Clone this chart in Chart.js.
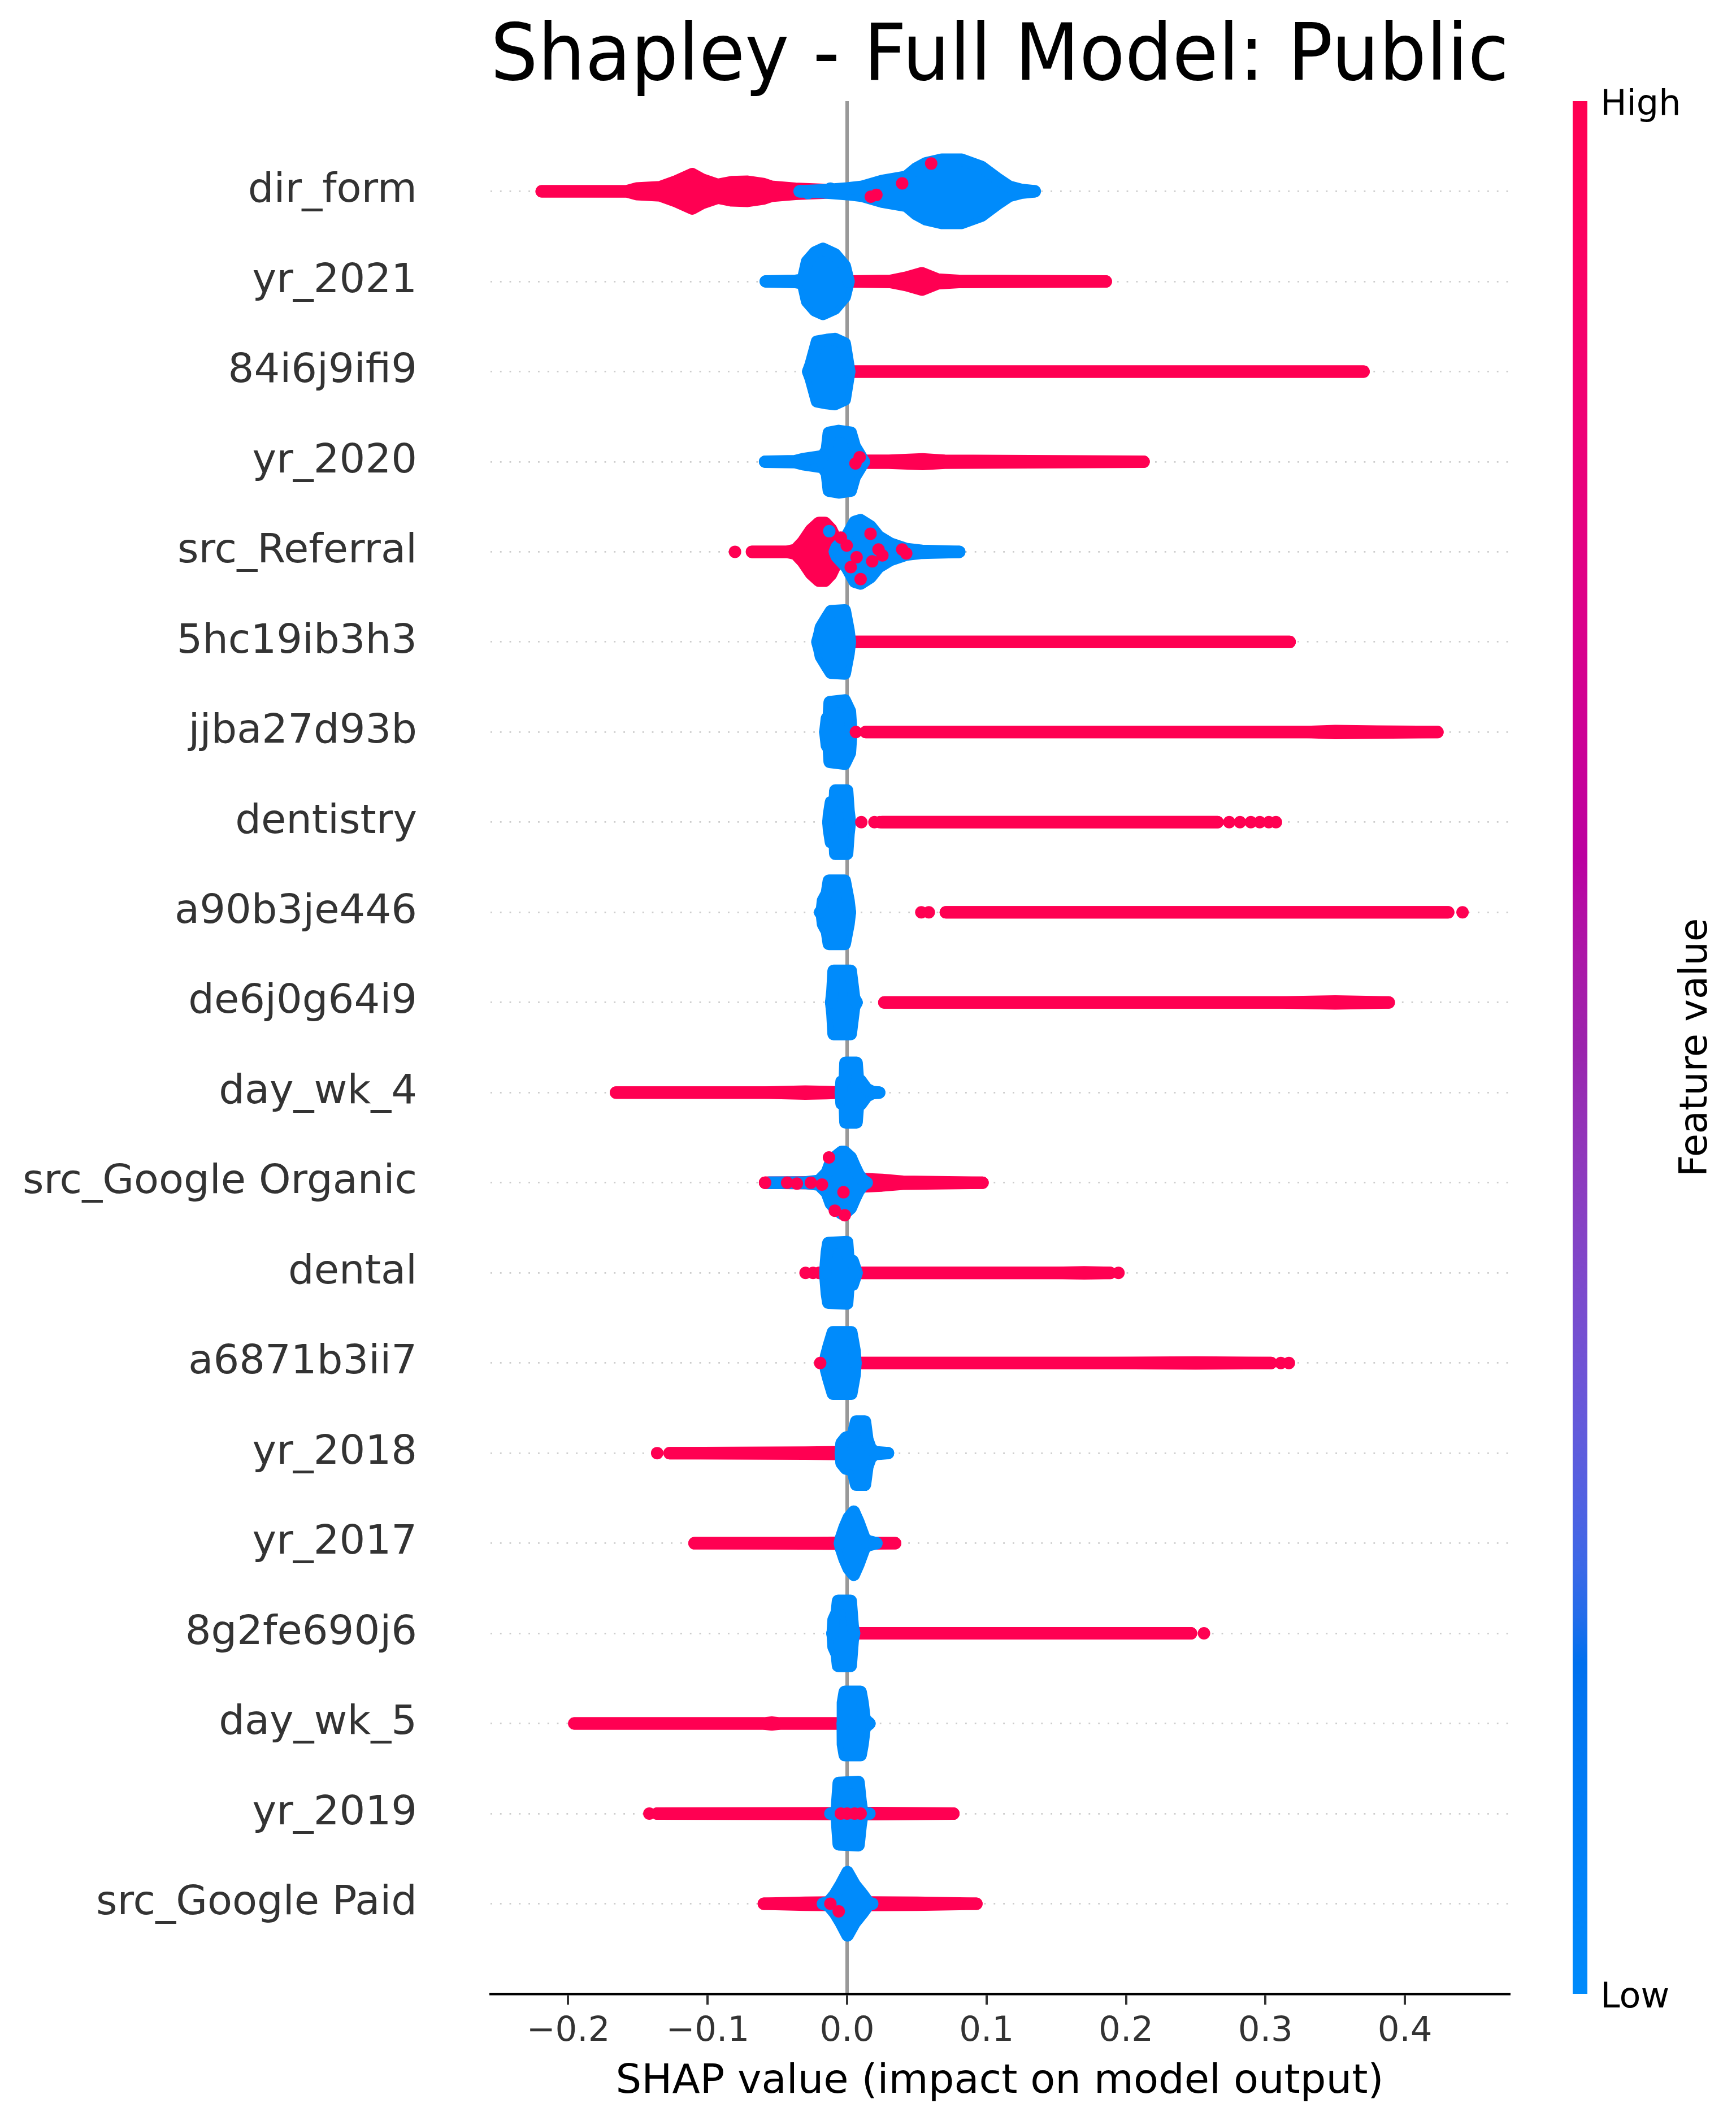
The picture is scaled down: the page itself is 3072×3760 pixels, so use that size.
<!DOCTYPE html>
<html>
<head>
<meta charset="utf-8">
<title>Shapley - Full Model: Public</title>
<script src="https://cdn.jsdelivr.net/npm/chart.js@4.4.0/dist/chart.umd.min.js"></script>
<style>
  html, body { margin: 0; padding: 0; background: #ffffff; }
  canvas { display: block; }
</style>
</head>
<body>
<canvas id="shapChart" width="3072" height="3760"></canvas>
<script>
// features, top to bottom
const features = [
  "dir_form", "yr_2021", "84i6j9ifi9", "yr_2020", "src_Referral",
  "5hc19ib3h3", "jjba27d93b", "dentistry", "a90b3je446", "de6j0g64i9",
  "day_wk_4", "src_Google Organic", "dental", "a6871b3ii7", "yr_2018",
  "yr_2017", "8g2fe690j6", "day_wk_5", "yr_2019", "src_Google Paid",
];
const xTicks = [-0.2, -0.1, 0.0, 0.1, 0.2, 0.3, 0.4];

// swarm outline per feature: [shap value, half height of the swarm in rows]
const blueSwarm = [
  [[-0.034,0.069],[-0.017,0.08],[0,0.1],[0.011,0.12],[0.0253,0.185],[0.0424,0.23],[0.0494,0.32],[0.0565,0.38],[0.0679,0.42],[0.0821,0.42],[0.0964,0.34],[0.1077,0.21],[0.1163,0.12],[0.1248,0.085],[0.1345,0.069]],
  [[-0.0583,0.069],[-0.0372,0.075],[-0.0316,0.09],[-0.0287,0.29],[-0.023,0.39],[-0.0173,0.43],[-0.0088,0.37],[-0.0017,0.24],[0.001,0.069]],
  [[-0.0279,0.069],[-0.026,0.15],[-0.0216,0.4],[-0.0145,0.42],[-0.0088,0.43],[-0.0017,0.38],[0.001,0.12],[0.0015,0.069]],
  [[-0.0588,0.069],[-0.0372,0.075],[-0.0316,0.097],[-0.0173,0.13],[-0.0145,0.2],[-0.0131,0.39],[-0.006,0.41],[0.0026,0.39],[0.0054,0.24],[0.0097,0.13],[0.012,0.069]],
  [[-0.0088,0.069],[-0.0075,0.12],[-0.0003,0.24],[0.0054,0.4],[0.0097,0.42],[0.0168,0.35],[0.0225,0.24],[0.031,0.16],[0.0424,0.1],[0.0537,0.08],[0.0804,0.069]],
  [[-0.0213,0.069],[-0.0199,0.15],[-0.0188,0.23],[-0.0145,0.34],[-0.0116,0.41],[-0.0017,0.42],[0.001,0.2],[0.002,0.069]],
  [[-0.0156,0.069],[-0.0145,0.22],[-0.0131,0.25],[-0.0125,0.4],[-0.0017,0.42],[0.002,0.3],[0.003,0.069]],
  [[-0.0134,0.069],[-0.013,0.15],[-0.0116,0.29],[-0.0088,0.3],[-0.0085,0.42],[0.0,0.42],[0.001,0.2],[0.002,0.069]],
  [[-0.0193,0.069],[-0.018,0.1],[-0.0173,0.2],[-0.0145,0.28],[-0.0131,0.42],[-0.0017,0.42],[0.001,0.2],[0.002,0.069]],
  [[-0.0114,0.069],[-0.0105,0.2],[-0.0097,0.42],[0.0026,0.42],[0.005,0.12],[0.0068,0.069]],
  [[-0.0045,0.069],[-0.004,0.19],[-0.0017,0.2],[-0.0012,0.4],[0.0068,0.4],[0.0077,0.22],[0.0097,0.2],[0.0139,0.11],[0.0182,0.075],[0.023,0.069]],
  [[-0.056,0.069],[-0.03,0.072],[-0.0202,0.09],[-0.0145,0.18],[-0.0117,0.3],[-0.0088,0.35],[-0.004,0.41],[-0.0017,0.41],[0.0026,0.35],[0.0054,0.25],[0.0082,0.16],[0.0111,0.1],[0.014,0.069]],
  [[-0.0156,0.069],[-0.0153,0.15],[-0.0145,0.3],[-0.0135,0.4],[0.0,0.41],[0.001,0.2],[0.004,0.2],[0.0068,0.069]],
  [[-0.0159,0.069],[-0.015,0.15],[-0.0131,0.26],[-0.0102,0.41],[0.003,0.41],[0.0054,0.2],[0.006,0.069]],
  [[-0.0045,0.069],[-0.004,0.18],[-0.0009,0.24],[0.004,0.26],[0.0065,0.42],[0.0128,0.42],[0.0145,0.22],[0.0168,0.12],[0.02,0.08],[0.0293,0.069]],
  [[-0.0051,0.069],[-0.0045,0.12],[-0.0017,0.25],[0.0011,0.35],[0.0048,0.42],[0.0082,0.3],[0.0125,0.12],[0.0153,0.09],[0.021,0.069]],
  [[-0.0105,0.069],[-0.0102,0.1],[-0.0097,0.22],[-0.0074,0.3],[-0.0065,0.43],[0.0026,0.43],[0.004,0.15],[0.005,0.069]],
  [[-0.0031,0.069],[-0.003,0.3],[-0.0017,0.42],[0.0097,0.42],[0.0111,0.3],[0.0125,0.12],[0.0145,0.09],[0.016,0.069]],
  [[-0.0075,0.069],[-0.007,0.2],[-0.006,0.41],[0.0082,0.42],[0.0097,0.2],[0.011,0.069]],
  [[-0.0173,0.069],[-0.0131,0.09],[-0.0088,0.17],[-0.0045,0.28],[0.0003,0.42],[0.0054,0.28],[0.0111,0.17],[0.0153,0.08],[0.018,0.069]],
];

const redSwarm = [
  [[-0.219,0.069],[-0.158,0.07],[-0.151,0.1],[-0.134,0.115],[-0.1225,0.18],[-0.111,0.26],[-0.104,0.2],[-0.0927,0.14],[-0.0827,0.17],[-0.0713,0.175],[-0.06,0.15],[-0.0543,0.12],[-0.0372,0.097],[-0.0173,0.085],[-0.003,0.069]],
  [[0.002,0.069],[0.031,0.075],[0.0424,0.11],[0.0537,0.16],[0.0651,0.09],[0.08,0.075],[0.1855,0.069]],
  [[0.002,0.069],[0.3703,0.069]],
  [[0.003,0.069],[0.01,0.08],[0.03,0.08],[0.054,0.095],[0.07,0.08],[0.2126,0.069]],
  [[-0.0682,0.069],[-0.043,0.07],[-0.037,0.09],[-0.0316,0.18],[-0.0259,0.31],[-0.0202,0.39],[-0.0159,0.39],[-0.0116,0.32],[-0.0088,0.23],[-0.004,0.15],[0.0,0.069]],
  [[0.002,0.069],[0.3173,0.069]],
  [[0.0134,0.069],[0.33,0.069],[0.35,0.08],[0.38,0.075],[0.4233,0.069]],
  [[0.025,0.069],[0.2656,0.069]],
  [[0.0708,0.069],[0.431,0.069]],
  [[0.0267,0.069],[0.31,0.069],[0.35,0.08],[0.3884,0.069]],
  [[-0.1657,0.069],[-0.06,0.069],[-0.03,0.08],[-0.015,0.075],[-0.003,0.069]],
  [[-0.0588,0.069],[-0.015,0.075],[0.0,0.1],[0.011,0.11],[0.025,0.1],[0.04,0.08],[0.0971,0.069]],
  [[-0.02,0.069],[0.15,0.069],[0.17,0.075],[0.1887,0.069]],
  [[0.0054,0.069],[0.183,0.069],[0.25,0.075],[0.304,0.069]],
  [[-0.1273,0.069],[-0.03,0.075],[-0.003,0.08],[0.0,0.069]],
  [[-0.1094,0.069],[-0.03,0.072],[0.0,0.075],[0.0344,0.069]],
  [[0.004,0.069],[0.2466,0.069]],
  [[-0.1956,0.069],[-0.06,0.069],[-0.054,0.08],[-0.048,0.069],[-0.003,0.069]],
  [[-0.1362,0.069],[-0.03,0.072],[0.02,0.075],[0.0762,0.069]],
  [[-0.0597,0.069],[-0.03,0.08],[0.0,0.085],[0.05,0.08],[0.0927,0.069]],
];

// single points lying off the main swarms: [feature index, shap value, row offset]
const redDots = [
  [0,0.0603,-0.308],[0,0.0395,-0.088],[0,0.017,0.06],[0,0.021,0.04],
  [3,0.006,0.02],[3,0.009,-0.05],
  [4,-0.0804,0],[4,-0.0003,-0.07],[4,0.0026,0.17],[4,0.0097,0.303],[4,0.018,0.106],[4,0.0168,-0.2],
  [4,0.0225,-0.026],[4,0.0253,0.04],[4,0.0395,-0.026],[4,0.0424,0.018],[4,-0.0045,-0.158],[4,0.0068,0.06],
  [6,0.0063,0],
  [7,0.0102,0],[7,0.0196,0],[7,0.0235,0],[7,0.274,0],[7,0.2817,0],[7,0.2895,0],[7,0.2959,0],[7,0.3024,0],[7,0.3075,0],
  [8,0.0532,0],[8,0.0586,0],[8,0.4413,0],
  [11,-0.0588,0],[11,-0.043,0],[11,-0.036,0.01],[11,-0.026,0],[11,-0.018,0.02],[11,-0.0026,0.106],
  [11,-0.0088,0.31],[11,-0.0017,0.36],[11,-0.013,-0.28],
  [12,-0.0298,0],[12,-0.0244,0],[12,0.1946,0],
  [13,-0.0193,0],[13,0.311,0],[13,0.3168,0],
  [14,-0.1362,0],
  [16,0.2559,0],
  [18,-0.1418,0],[18,-0.0045,0],[18,0.0,0],[18,0.0054,0],[18,0.0097,0],
  [19,-0.006,0.084],[19,-0.012,0],
];
const blueDots = [
  [0,-0.028,0.02],[0,-0.012,-0.03],[4,-0.0128,-0.229],[4,-0.004,0.05],[18,-0.012,0],[18,0.016,0],
];

const RED = "#ff0052";
const BLUE = "#008bfb";
const DOT_PX = 11;        // marker radius
const DOT_ROWS = 0.069;   // same radius in row units

Chart.defaults.font.family = "'DejaVu Sans', sans-serif";

// shap red_blue colormap, walked in LCh space
function lch2rgb(L, C, h) {
  const a = C * Math.cos(h), b = C * Math.sin(h);
  const fy = (L + 16) / 116, fx = fy + a / 500, fz = fy - b / 200;
  const inv = (t) => (t > 6 / 29 ? t * t * t : 3 * (6 / 29) * (6 / 29) * (t - 4 / 29));
  const X = 0.95047 * inv(fx), Y = inv(fy), Z = 1.08883 * inv(fz);
  const lin = [
    3.2404542 * X - 1.5371385 * Y - 0.4985314 * Z,
    -0.969266 * X + 1.8760108 * Y + 0.041556 * Z,
    0.0556434 * X - 0.2040259 * Y + 1.0572252 * Z,
  ];
  const rgb = lin.map((v) => {
    const g = v <= 0.0031308 ? 12.92 * v : 1.055 * Math.pow(v, 1 / 2.4) - 0.055;
    return Math.round(255 * Math.min(1, Math.max(0, g)));
  });
  return `rgb(${rgb[0]},${rgb[1]},${rgb[2]})`;
}
function redBlue(t) {
  const L = t < 0.5 ? 54 - 28 * t : 40 + 28 * (t - 0.5);
  const C = 70 + 20 * t;
  const h = 4.6588 + (0.35470565 + 2 * Math.PI - 4.6588) * t;
  return lch2rgb(L, C, h);
}

function edge(profile, row, sign) {
  return profile.map(([x, h]) => ({ x: x, y: row + sign * Math.max(0, h - DOT_ROWS) }));
}

function swarmDatasets(swarm, color, order) {
  const sets = [];
  swarm.forEach((profile, row) => {
    const common = {
      borderColor: color,
      backgroundColor: color,
      borderWidth: DOT_PX * 2,
      borderJoinStyle: "round",
      borderCapStyle: "round",
      pointRadius: 0,
      tension: 0,
      order: order,
    };
    sets.push({ ...common, data: edge(profile, row, -1), fill: "+1" });
    sets.push({ ...common, data: edge(profile, row, 1), fill: false });
  });
  return sets;
}

function dotDataset(dots, color) {
  return {
    data: dots.map(([row, x, dy]) => ({ x: x, y: row + dy })),
    showLine: false,
    pointRadius: DOT_PX,
    pointBorderWidth: 0,
    pointBackgroundColor: color,
    order: 1,
  };
}

const colorBar = {
  id: "colorBar",
  afterDraw(chart) {
    const { ctx, chartArea } = chart;
    const top = chartArea.top, bottom = chartArea.bottom;
    const x0 = chartArea.right + 113;
    const grad = ctx.createLinearGradient(0, bottom, 0, top);
    for (let k = 0; k <= 40; k++) grad.addColorStop(k / 40, redBlue(k / 40));
    ctx.save();
    ctx.fillStyle = grad;
    ctx.fillRect(x0, top, 26, bottom - top);
    ctx.fillStyle = "#000000";
    ctx.font = "62px 'DejaVu Sans'";
    ctx.textAlign = "left";
    ctx.textBaseline = "alphabetic";
    ctx.fillText("High", x0 + 49, top + 24);
    ctx.fillText("Low", x0 + 49, bottom + 24);
    ctx.font = "67px 'DejaVu Sans'";
    ctx.translate(x0 + 237, (top + bottom) / 2);
    ctx.rotate(-Math.PI / 2);
    ctx.textAlign = "center";
    ctx.fillText("Feature value", 0, 0);
    ctx.restore();
  },
};

const fmtTick = (v) => (v < 0 ? "\u2212" + Math.abs(v).toFixed(1) : v.toFixed(1));

new Chart(document.getElementById("shapChart"), {
  type: "line",
  data: {
    datasets: [
      dotDataset(redDots, RED),
      dotDataset(blueDots, BLUE),
      ...swarmDatasets(blueSwarm, BLUE, 2),
      ...swarmDatasets(redSwarm, RED, 3),
    ],
  },
  options: {
    responsive: false,
    devicePixelRatio: 1,
    animation: false,
    events: [],
    layout: { padding: { left: 0, right: 402, top: 0, bottom: 0 } },
    plugins: {
      legend: { display: false },
      tooltip: { enabled: false },
      title: {
        display: true,
        text: "Shapley - Full Model: Public",
        color: "#000000",
        fullSize: false,
        font: { size: 139, weight: "normal", lineHeight: 1.0 },
        padding: { top: 35, bottom: 5 },
      },
    },
    scales: {
      x: {
        type: "linear",
        min: -0.2557,
        max: 0.4745,
        afterBuildTicks: (scale) => {
          scale.ticks = xTicks.map((v) => ({ value: v }));
        },
        afterFit: (scale) => {
          scale.height = 232;
        },
        ticks: {
          callback: (v) => fmtTick(v),
          color: "#333333",
          font: { size: 61, lineHeight: 1.0 },
          padding: 18,
          maxRotation: 0,
          autoSkip: false,
        },
        grid: {
          color: (ctx) => (ctx.tick && ctx.tick.value === 0 ? "#999999" : "rgba(0,0,0,0)"),
          lineWidth: 6,
          drawTicks: true,
          tickLength: 19,
          tickColor: "#333333",
          tickWidth: 4,
        },
        border: { display: true, color: "#000000", width: 4.4 },
        title: {
          display: true,
          text: "SHAP value (impact on model output)",
          color: "#000000",
          font: { size: 72, lineHeight: 1.0 },
          padding: { top: 0, bottom: 40 },
        },
      },
      y: {
        type: "linear",
        reverse: true,
        min: -1,
        max: features.length,
        afterBuildTicks: (scale) => {
          scale.ticks = features.map((_, i) => ({ value: i }));
        },
        afterFit: (scale) => {
          scale.width = 868;
        },
        ticks: {
          callback: (v) => features[v],
          color: "#333333",
          font: { size: 72, lineHeight: 1.0 },
          padding: 130,
          autoSkip: false,
        },
        grid: {
          color: "#cccccc",
          lineWidth: 2.8,
          drawTicks: false,
        },
        border: { display: false, dash: [2.8, 14] },
      },
    },
  },
  plugins: [colorBar],
});
</script>
</body>
</html>
